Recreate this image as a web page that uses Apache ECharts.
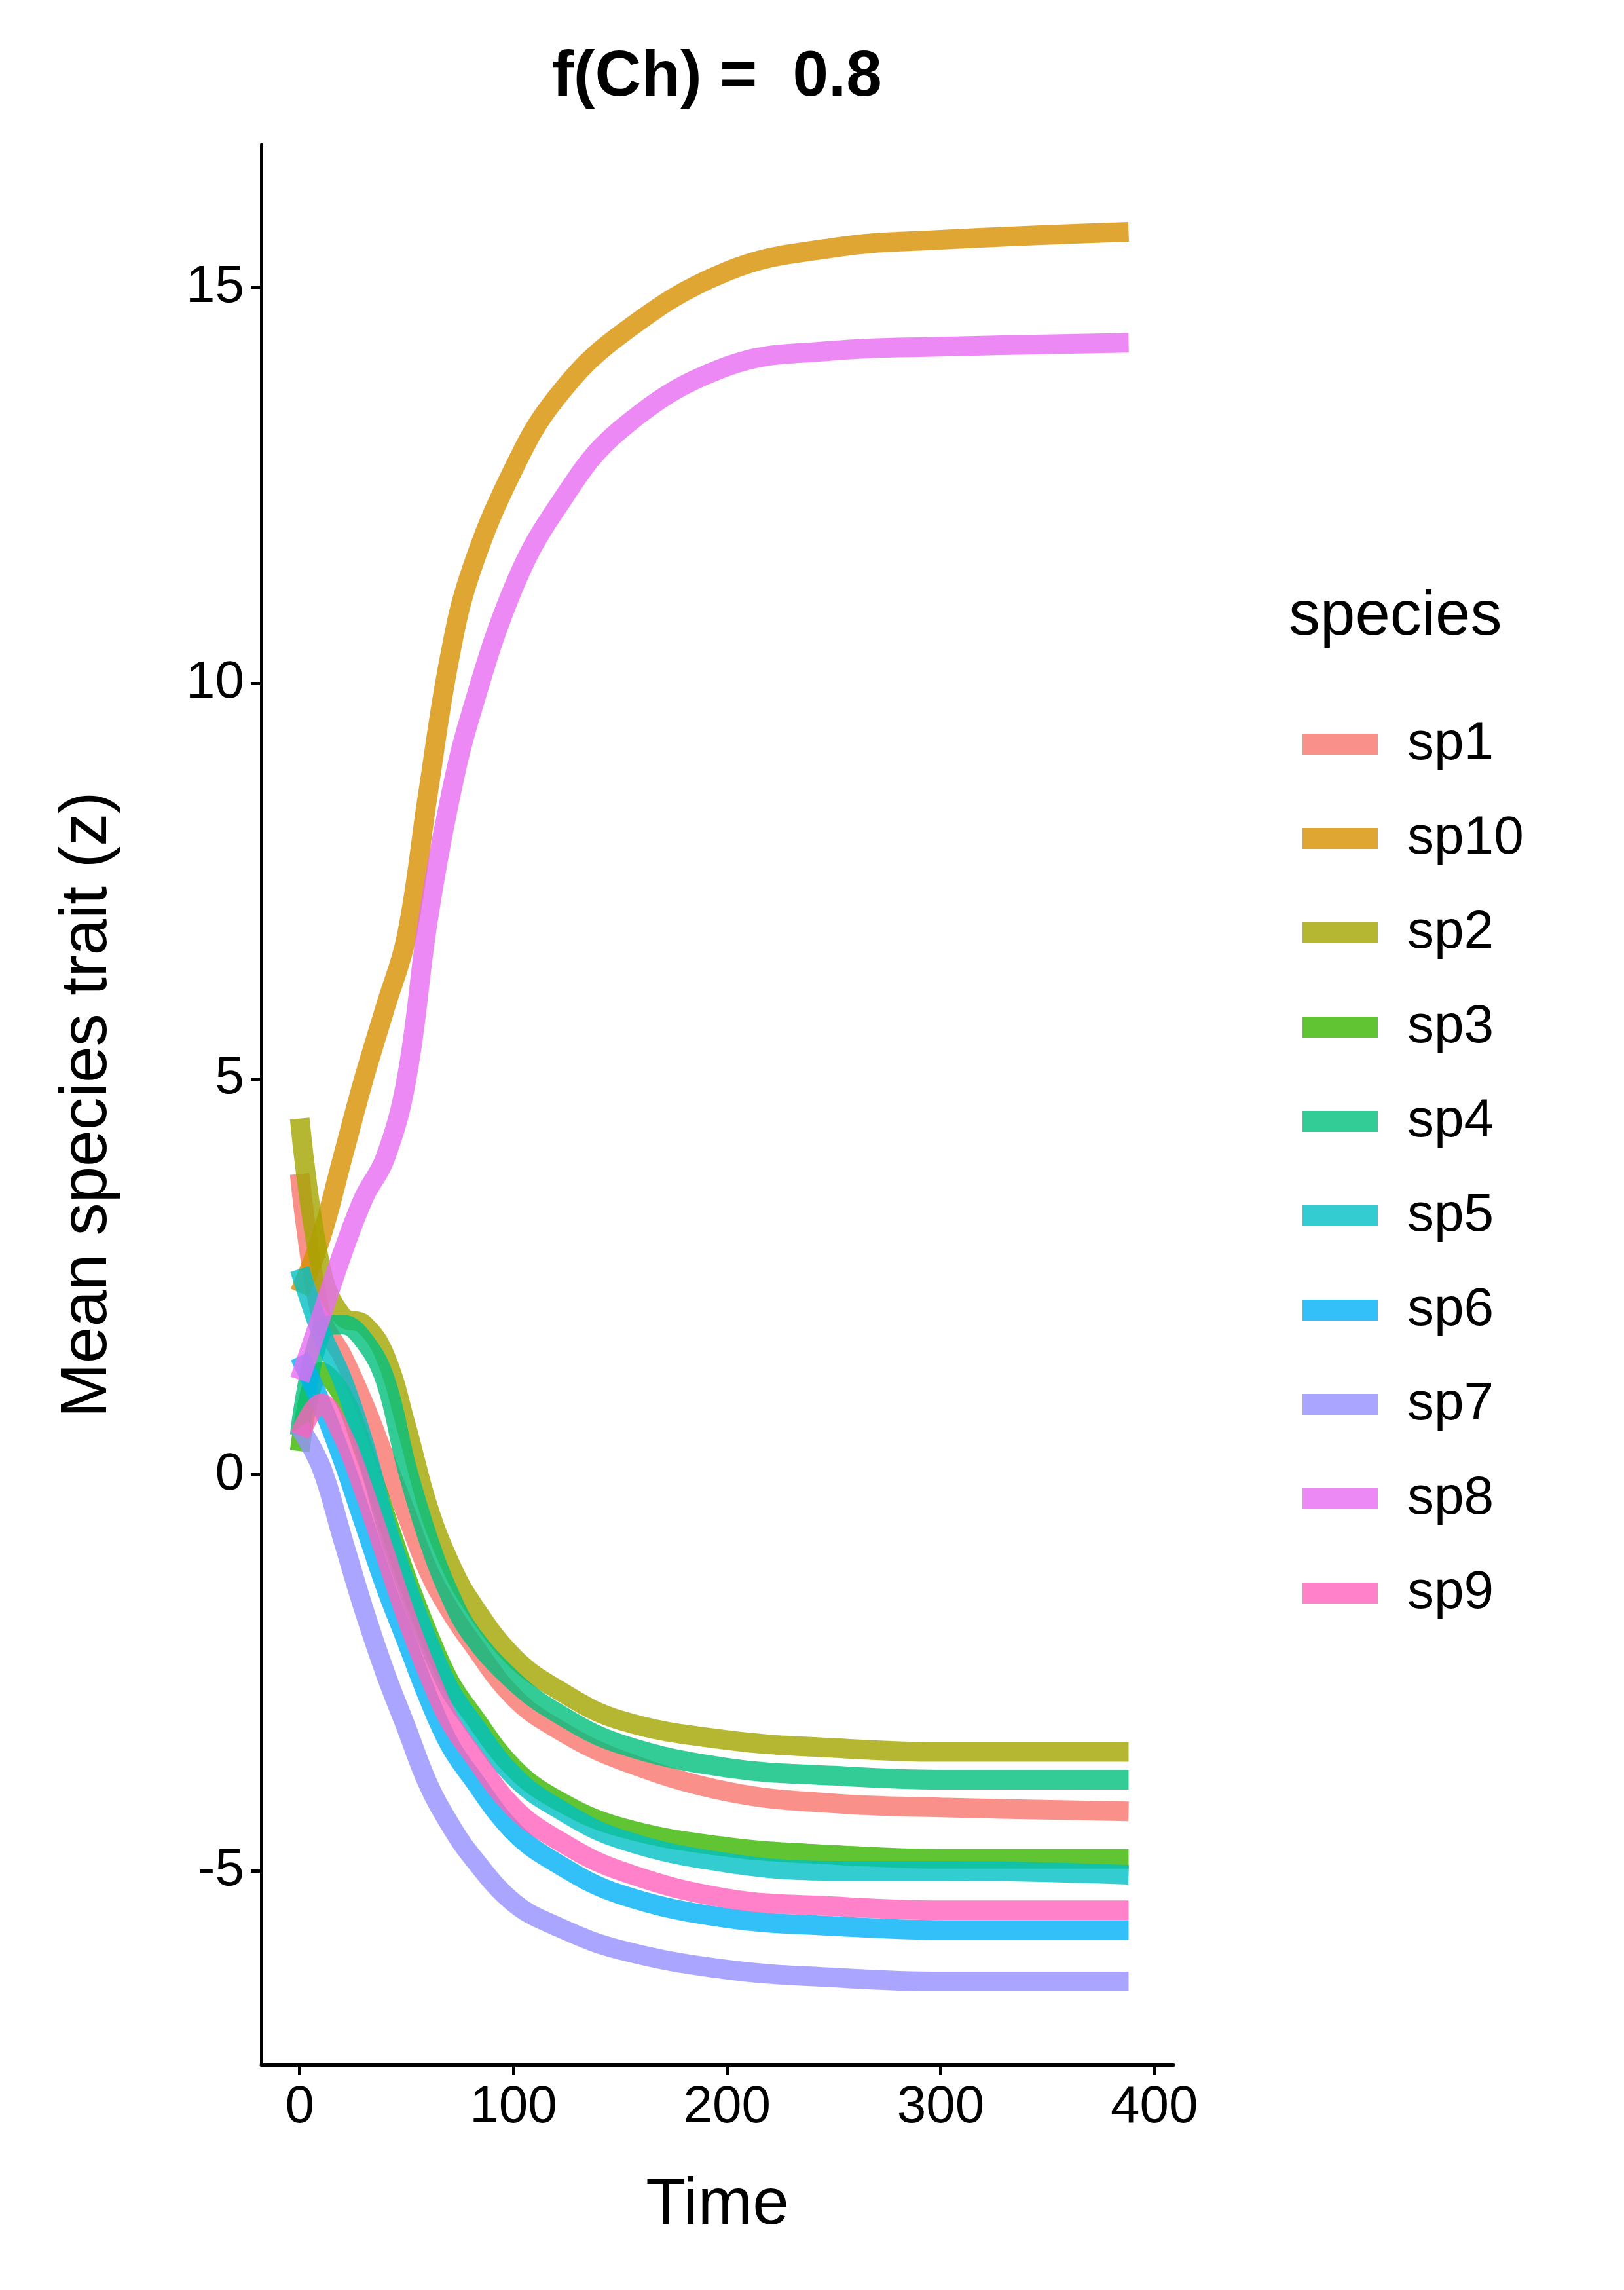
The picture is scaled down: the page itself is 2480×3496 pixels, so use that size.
<!DOCTYPE html>
<html lang="en">
<head>
<meta charset="UTF-8">
<script src="https://cdn.jsdelivr.net/npm/echarts@6/dist/echarts.min.js"></script>
<style>
  html, body { margin: 0; padding: 0; background: #fff; }
  #chart { width: 2480px; height: 3496px; }
</style>
</head>
<body>
<div id="chart"></div>
<script>
// time points shared by all species
var times = [0, 10, 20, 30, 40, 50, 60, 70, 80, 100, 120, 150, 200, 250, 300, 388];
var speciesNames = ['sp1', 'sp10', 'sp2', 'sp3', 'sp4', 'sp5', 'sp6', 'sp7', 'sp8', 'sp9'];
var sp1  = [3.8, 2.0, 1.5, 0.9, 0.2, -0.5, -1.2, -1.7, -2.1, -2.8, -3.2, -3.6, -4.0, -4.15, -4.2, -4.25];
var sp10 = [2.3, 3.0, 4.0, 5.0, 5.9, 6.8, 8.6, 10.3, 11.4, 12.7, 13.6, 14.4, 15.2, 15.5, 15.6, 15.7];
var sp2  = [4.5, 2.6, 2.0, 1.9, 1.5, 0.6, -0.4, -1.1, -1.6, -2.3, -2.7, -3.1, -3.35, -3.45, -3.5, -3.5];
var sp3  = [0.3, 1.3, 1.0, 0.3, -0.5, -1.3, -2.0, -2.6, -3.0, -3.7, -4.1, -4.45, -4.7, -4.8, -4.85, -4.85];
var sp4  = [0.5, 1.8, 1.9, 1.7, 1.2, 0.1, -0.8, -1.5, -2.0, -2.6, -3.0, -3.4, -3.7, -3.8, -3.85, -3.85];
var sp5  = [2.6, 1.8, 1.2, 0.4, -0.6, -1.4, -2.1, -2.7, -3.1, -3.8, -4.2, -4.6, -4.9, -5.0, -5.0, -5.05];
var sp6  = [1.5, 0.9, 0.2, -0.6, -1.4, -2.1, -2.8, -3.4, -3.8, -4.5, -4.9, -5.3, -5.6, -5.7, -5.75, -5.75];
var sp7  = [0.6, 0.1, -0.8, -1.7, -2.5, -3.2, -3.9, -4.4, -4.8, -5.4, -5.7, -6.0, -6.25, -6.35, -6.4, -6.4];
var sp8  = [1.2, 2.0, 2.8, 3.5, 4.0, 5.0, 7.0, 8.5, 9.6, 11.2, 12.2, 13.2, 14.0, 14.2, 14.25, 14.3];
var sp9  = [0.5, 0.9, 0.5, -0.2, -1.0, -1.8, -2.5, -3.1, -3.5, -4.2, -4.6, -5.0, -5.35, -5.45, -5.5, -5.5];
var colors = ['#F8766D', '#D89000', '#A3A500', '#39B600', '#00BF7D', '#00BFC4', '#00B0F6', '#9590FF', '#E76BF3', '#FF62BC'];
var xTicks = [0, 100, 200, 300, 400];
var yTicks = [-5, 0, 5, 10, 15];

var values = [sp1, sp10, sp2, sp3, sp4, sp5, sp6, sp7, sp8, sp9];
var font = 'Liberation Sans, Arial, sans-serif';

var series = speciesNames.map(function (name, i) {
  return {
    name: name,
    type: 'line',
    smooth: 0.4,
    showSymbol: false,
    data: times.map(function (t, j) { return [t, values[i][j]]; }),
    lineStyle: { width: 30, color: colors[i], opacity: 0.8 },
    itemStyle: { color: colors[i], opacity: 0.8 }
  };
});

var chart = echarts.init(document.getElementById('chart'));
chart.setOption({
  animation: false,
  backgroundColor: '#fff',
  color: colors,
  title: {
    text: 'f(Ch) =  0.8', left: 1090, top: 65, textAlign: 'center',
    textStyle: { fontFamily: font, fontSize: 98, fontWeight: 'bold', color: '#000' }
  },
  graphic: [{
    type: 'text', left: 1968, top: 895,
    style: { text: 'species', font: '96px ' + font, fill: '#000' }
  }],
  legend: {
    orient: 'vertical', left: 1984, top: 1090, itemGap: 62,
    itemWidth: 115, itemHeight: 32, icon: 'rect',
    data: speciesNames,
    textStyle: { fontFamily: font, fontSize: 82, color: '#000', padding: [0, 0, 0, 40] }
  },
  grid: { left: 399, right: 688, top: 221, bottom: 344, outerBoundsMode: 'none', containLabel: false },
  xAxis: {
    type: 'value', min: -18, max: 409,
    name: 'Time', nameLocation: 'middle', nameGap: 165,
    nameTextStyle: { fontFamily: font, fontSize: 100, color: '#000' },
    axisLine: { show: true, onZero: false, lineStyle: { color: '#000', width: 5 } },
    axisTick: { show: true, length: 16, lineStyle: { color: '#000', width: 5 }, customValues: xTicks },
    axisLabel: { fontFamily: font, fontSize: 80, color: '#000', margin: 26, customValues: xTicks },
    splitLine: { show: false }
  },
  yAxis: {
    type: 'value', min: -7.45, max: 16.8,
    name: 'Mean species trait (z)', nameLocation: 'middle', nameGap: 215,
    nameTextStyle: { fontFamily: font, fontSize: 100, color: '#000' },
    axisLine: { show: true, onZero: false, lineStyle: { color: '#000', width: 5 } },
    axisTick: { show: true, length: 16, lineStyle: { color: '#000', width: 5 }, customValues: yTicks },
    axisLabel: { fontFamily: font, fontSize: 80, color: '#000', margin: 26, customValues: yTicks },
    splitLine: { show: false }
  },
  series: series
});
</script>
</body>
</html>
